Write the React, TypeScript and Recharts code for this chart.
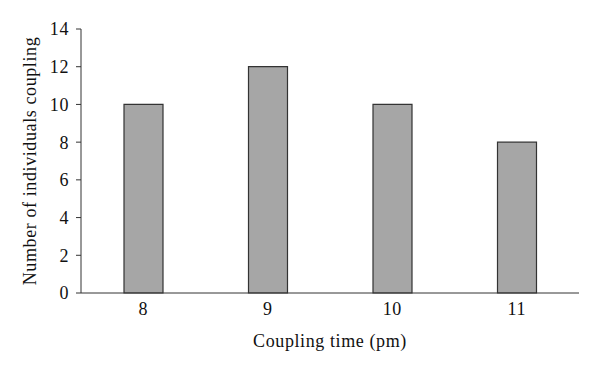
import React from "react";
import { BarChart, Bar, XAxis, YAxis } from "recharts";

const categories = ["8", "9", "10", "11"];
const counts = [10, 12, 10, 8];
const yTicks = [0, 2, 4, 6, 8, 10, 12, 14];

const data = categories.map((c, i) => ({ time: c, count: counts[i] }));

const FONT = "'Liberation Serif', 'Times New Roman', serif";
const textStyle = { fill: "#111", fontSize: 18, fontFamily: FONT, letterSpacing: 0.6 };

export default function App() {
  return (
    <div style={{ position: "absolute", left: 0, top: 0, width: 600, height: 370, background: "#fff" }}>
      <BarChart
        width={600}
        height={370}
        data={data}
        margin={{ top: 29, right: 21, bottom: 0, left: 0 }}
        barSize={39}
      >
        <XAxis
          dataKey="time"
          height={77}
          tickLine={false}
          tickSize={0}
          tickMargin={9}
          axisLine={{ stroke: "#333", strokeWidth: 1 }}
          tick={textStyle}
          label={{
            value: "Coupling time (pm)",
            position: "insideBottom",
            offset: 23,
            style: textStyle,
          }}
        />
        <YAxis
          width={81}
          domain={[0, 14]}
          ticks={yTicks}
          interval={0}
          tickSize={5}
          tickMargin={7}
          axisLine={{ stroke: "#333", strokeWidth: 1 }}
          tickLine={{ stroke: "#333", strokeWidth: 1 }}
          tick={textStyle}
          label={{
            value: "Number of individuals coupling",
            angle: -90,
            position: "insideLeft",
            offset: 30,
            style: { ...textStyle, textAnchor: "middle" },
          }}
        />
        <Bar dataKey="count" fill="#a6a6a6" stroke="#333" strokeWidth={1.2} isAnimationActive={false} />
      </BarChart>
    </div>
  );
}
